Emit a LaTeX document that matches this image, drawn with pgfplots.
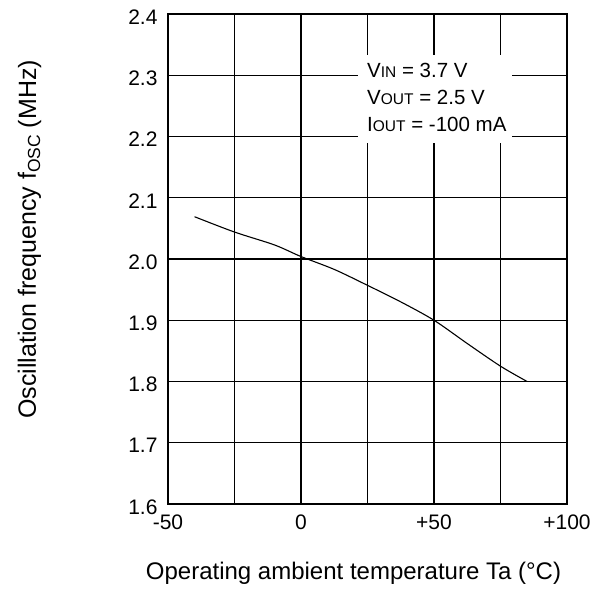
\documentclass[border=0pt]{standalone}
\usepackage{pgfplots}
\pgfplotsset{compat=1.18}
\usepackage{fontspec}
\setmainfont{Liberation Sans}
\begin{document}
\begin{tikzpicture}[x=1pt,y=1pt]
\path[use as bounding box] (0,0) rectangle (595,589);
\begin{axis}[
  at={(168pt,85pt)}, anchor=south west,
  width=399pt, height=490pt, scale only axis,
  xmin=-50, xmax=100, ymin=1.6, ymax=2.4,
  xtick={-50,-25,0,25,50,75,100},
  xticklabels={-50,,0,,+50,,+100},
  ytick={1.6,1.7,1.8,1.9,2.0,2.1,2.2,2.3,2.4},
  yticklabels={1.6,1.7,1.8,1.9,2.0,2.1,2.2,2.3,2.4},
  grid=major,
  major grid style={black, line width=1.1pt},
  axis line style={black, line width=1.3pt},
  major tick length=0pt,
  /pgf/number format/assume math mode=true,
  tick label style={font=\fontsize{21}{25}\selectfont},
  xticklabel style={yshift=-7pt},
  yticklabel style={xshift=-7pt, yshift=-3pt},
]
\addplot[black, line width=1.1pt, smooth] coordinates {
  (-40,2.069) (-25,2.044) (-10,2.023) (0,2.004) (12.5,1.983) (25,1.957)
  (37.5,1.930) (50,1.900) (62.5,1.862) (75,1.825) (85,1.800)
};
\end{axis}
\fill[white] (358,446) rectangle (512,534);
\node[anchor=base west, inner sep=0pt, font=\fontsize{20.5}{24}\selectfont] at (367,511) {V{\fontsize{15.5}{18}\selectfont IN} = 3.7 V};
\node[anchor=base west, inner sep=0pt, font=\fontsize{20.5}{24}\selectfont] at (367,484) {V{\fontsize{15.5}{18}\selectfont OUT} = 2.5 V};
\node[anchor=base west, inner sep=0pt, font=\fontsize{20.5}{24}\selectfont] at (367,457) {I{\fontsize{15.5}{18}\selectfont OUT} = -100 mA};
\node[anchor=base, inner sep=0pt, rotate=90, font=\fontsize{25}{30}\selectfont] at (36,349.5) {Oscillation frequency f\raisebox{-4pt}{\fontsize{17.5}{20}\selectfont OSC} (MHz)};
\node[anchor=base, inner sep=0pt, font=\fontsize{24}{28}\selectfont] at (353.5,9) {Operating ambient temperature Ta (°C)};
\end{tikzpicture}
\end{document}
